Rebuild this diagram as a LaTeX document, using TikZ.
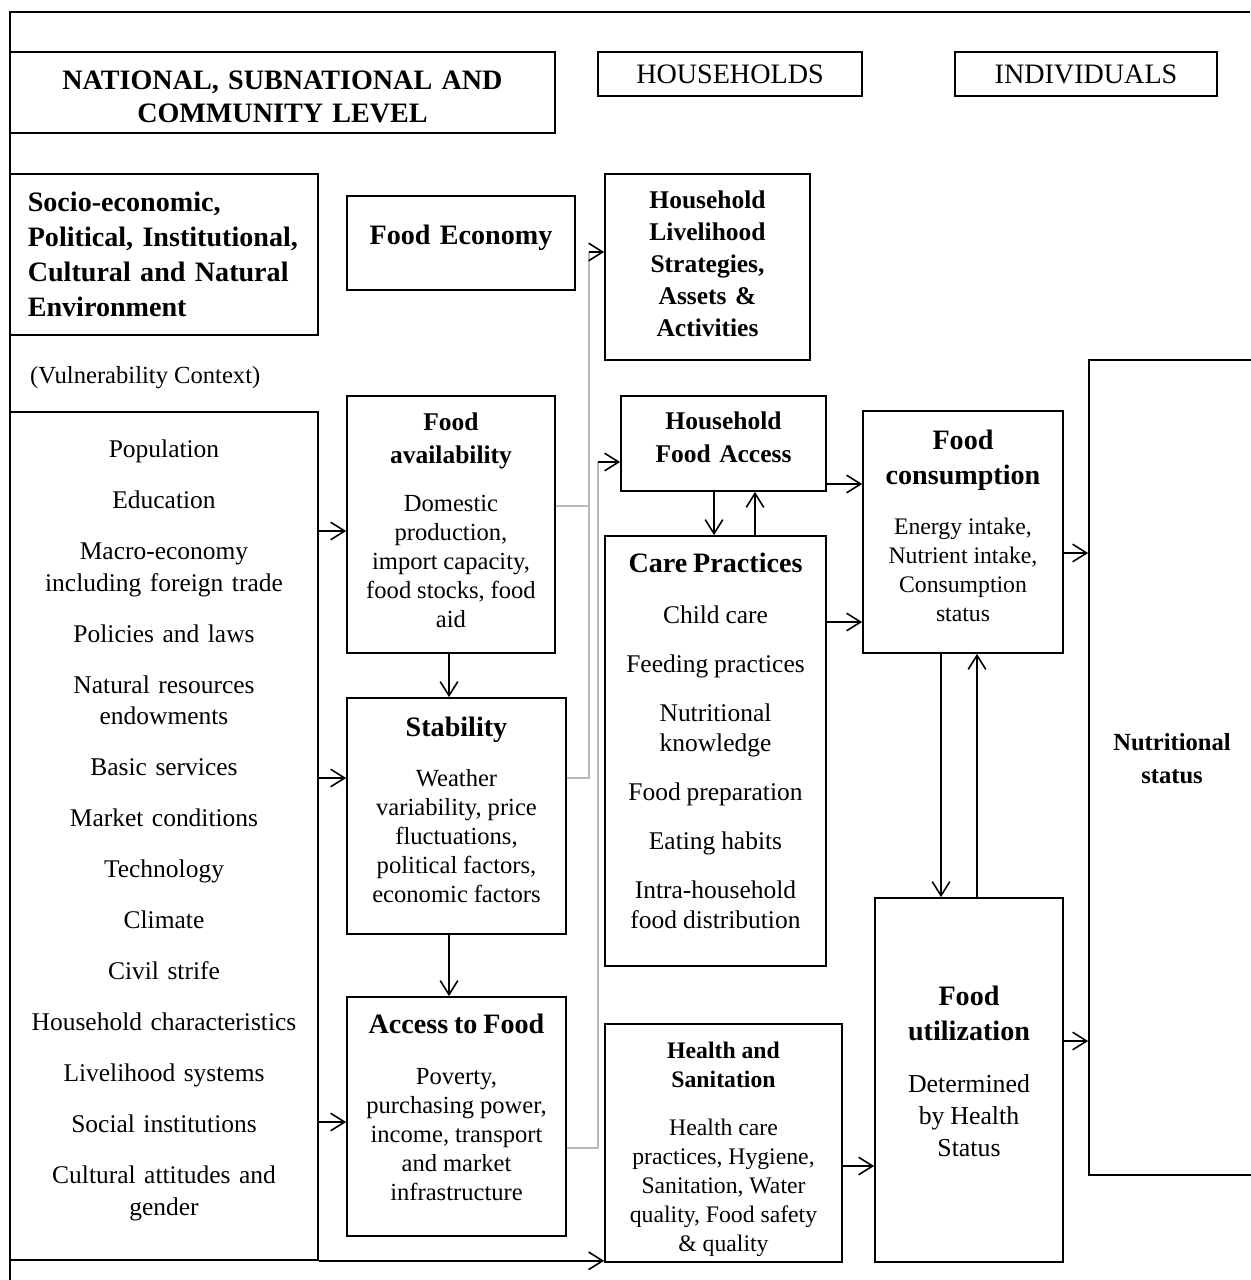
\documentclass[tikz,border=0pt]{standalone}
\usepackage{fontspec}
\setmainfont{Liberation Serif}
\usetikzlibrary{arrows.meta}

\newcommand\hdbig{\fontsize{16}{20}\selectfont\bfseries}
\newcommand\hdmid{\fontsize{14.5}{18.8}\selectfont\bfseries}
\newcommand\hdsml{\fontsize{13.5}{16.5}\selectfont\bfseries}
\newcommand\txtbody{\fontsize{14}{16.5}\selectfont}
\newcommand\txtsml{\fontsize{13.5}{16.5}\selectfont}

\tikzset{
  box/.style={draw, line width=1pt, align=center, inner sep=0pt},
  lift/.style={execute at end node={\par\vspace{#1}}},
  arr/.style={-{Straight Barb[length=8pt,width=10pt]}, line width=0.9pt},
  link/.style={draw=gray!55, line width=0.9pt},
}

\begin{document}
\begin{tikzpicture}[x=0.02cm,y=-0.02cm]
\useasboundingbox (0,0) rectangle (1250,1280);
% frame
\draw[line width=1pt] (1250,12) -- (10,12) -- (10,1280);

% level headers
\node[box, lift=-5pt, minimum width=10.9cm, minimum height=1.62cm, text width=10cm, font=\fontsize{16}{19.3}\selectfont\bfseries] (national) at (282.5,92.5) {NATIONAL, SUBNATIONAL AND\\COMMUNITY LEVEL};
\node[box, lift=-7pt, minimum width=5.28cm, minimum height=0.88cm, text width=5cm, font=\fontsize{16}{19}\selectfont] (households) at (730,74) {HOUSEHOLDS};
\node[box, lift=-7pt, minimum width=5.24cm, minimum height=0.88cm, text width=5cm, font=\fontsize{16}{19}\selectfont] (individuals) at (1086,74) {INDIVIDUALS};

% left column
\node[box, minimum width=6.16cm, minimum height=3.22cm, text width=5.45cm, align=left, font=\hdbig] (context) at (164,254.5) {Socio-economic,\\Political, Institutional,\\Cultural and Natural\\Environment};
\node[anchor=west, font=\fontsize{14}{17}\selectfont] (vuln) at (24,378) {(Vulnerability Context)};
\node[box, lift=6.5pt, minimum width=6.16cm, minimum height=16.96cm, text width=5.9cm, font=\fontsize{14.5}{18.2}\selectfont] (factors) at (164,836) {Population\\[10.8pt]Education\\[10.8pt]Macro-economy\\including foreign trade\\[10.8pt]Policies and laws\\[10.8pt]Natural resources\\endowments\\[10.8pt]Basic services\\[10.8pt]Market conditions\\[10.8pt]Technology\\[10.8pt]Climate\\[10.8pt]Civil strife\\[10.8pt]Household characteristics\\[10.8pt]Livelihood systems\\[10.8pt]Social institutions\\[10.8pt]Cultural attitudes and\\gender};

% national column
\node[box, lift=5.7pt, minimum width=4.56cm, minimum height=1.88cm, text width=4.3cm, font=\hdbig] (economy) at (461,243) {Food Economy};
\node[box, lift=4.5pt, minimum width=4.16cm, minimum height=5.14cm, text width=3.9cm] (avail) at (451,524.5) {{\hdmid Food\\availability\par}\vspace{11pt}{\txtbody Domestic\\production,\\import capacity,\\food stocks, food\\aid\par}};
\node[box, lift=7.5pt, minimum width=4.38cm, minimum height=4.72cm, text width=4.1cm] (stability) at (456.5,816) {{\hdbig Stability\par}\vspace{12pt}{\txtbody Weather\\variability, price\\fluctuations,\\political factors,\\economic factors\par}};
\node[box, lift=10pt, minimum width=4.38cm, minimum height=4.78cm, text width=4.1cm] (access) at (456.5,1116.5) {{\hdbig Access to Food\par}\vspace{12.5pt}{\txtbody Poverty,\\purchasing power,\\income, transport\\and market\\infrastructure\par}};

% household column
\node[box, lift=4pt, minimum width=4.1cm, minimum height=3.72cm, text width=3.8cm, font=\fontsize{14.5}{18.2}\selectfont\bfseries] (livelihood) at (707.5,267) {Household\\Livelihood\\Strategies,\\Assets \&\\Activities};
\node[box, lift=7pt, minimum width=4.1cm, minimum height=1.9cm, text width=3.8cm, font=\hdmid] (hhaccess) at (723.5,443.5) {Household\\Food Access};
\node[box, lift=11.5pt, minimum width=4.42cm, minimum height=8.6cm, text width=4.2cm] (care) at (715.5,751) {{\hdbig Care Practices\par}\vspace{12pt}{\fontsize{14.5}{17}\selectfont Child care\\[11pt]Feeding practices\\[11pt]Nutritional\\knowledge\\[11pt]Food preparation\\[11pt]Eating habits\\[11pt]Intra-household\\food distribution\par}};
\node[box, lift=-7pt, minimum width=4.74cm, minimum height=4.76cm, text width=4.4cm] (health) at (723.5,1143) {{\hdsml Health and\\Sanitation\par}\vspace{10.8pt}{\txtsml Health care\\practices, Hygiene,\\Sanitation, Water\\quality, Food safety\\\& quality\par}};

% individual column
\node[box, lift=7pt, minimum width=4cm, minimum height=4.84cm, text width=3.7cm] (consumption) at (963,532) {{\hdbig Food\\consumption\par}\vspace{12pt}{\txtsml Energy intake,\\Nutrient intake,\\Consumption\\status\par}};
\node[box, lift=10pt, minimum width=3.76cm, minimum height=7.28cm, text width=3.4cm] (utilization) at (969,1080) {{\hdbig Food\\utilization\par}\vspace{11.4pt}{\fontsize{14.7}{18.2}\selectfont Determined\\by Health\\Status\par}};
\node[box, lift=10pt, minimum width=3.32cm, minimum height=16.3cm, text width=3cm, font=\fontsize{14}{18.8}\selectfont\bfseries] (nutrition) at (1172,767.5) {Nutritional\\status};

% connectors
\draw[arr] (factors.east |- 0,531) -- (avail.west |- 0,531);
\draw[arr] (factors.east |- 0,778) -- (stability.west |- 0,778);
\draw[arr] (factors.east |- 0,1122) -- (access.west |- 0,1122);
\draw[arr] (avail.south -| 449,0) -- (stability.north -| 449,0);
\draw[arr] (stability.south -| 449,0) -- (access.north -| 449,0);
\draw[arr] (factors.south east) -- (health.west |- factors.south east);

\coordinate (j1) at (589,252);
\coordinate (j2) at (598,462);
\draw[link] (avail.east |- 0,506) -- (j1 |- 0,506);
\draw[link] (stability.east |- 0,778) -- (j1 |- 0,778) -- (j1);
\draw[arr] (j1) -- (livelihood.west |- j1);
\draw[link] (access.east |- 0,1148) -- (j2 |- 0,1148) -- (j2);
\draw[arr] (j2) -- (hhaccess.west |- j2);

\draw[arr] (hhaccess.south -| 714,0) -- (care.north -| 714,0);
\draw[arr] (care.north -| 755,0) -- (hhaccess.south -| 755,0);
\draw[arr] (hhaccess.east |- 0,484) -- (consumption.west |- 0,484);
\draw[arr] (care.east |- 0,622) -- (consumption.west |- 0,622);
\draw[arr] (health.east |- 0,1166) -- (utilization.west |- 0,1166);
\draw[arr] (consumption.south -| 941,0) -- (utilization.north -| 941,0);
\draw[arr] (utilization.north -| 977,0) -- (consumption.south -| 977,0);
\draw[arr] (consumption.east |- 0,553) -- (nutrition.west |- 0,553);
\draw[arr] (utilization.east |- 0,1041) -- (nutrition.west |- 0,1041);
\end{tikzpicture}
\end{document}
